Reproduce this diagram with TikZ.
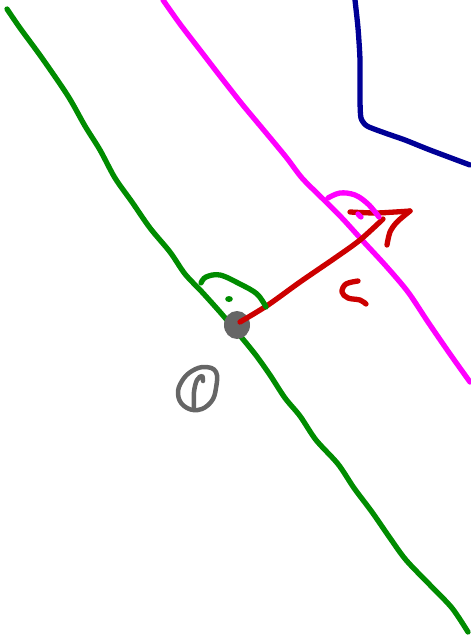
\documentclass[tikz,border=0pt]{standalone}
\definecolor{pgreen}{RGB}{0,140,0}
\definecolor{pmag}{RGB}{255,0,255}
\definecolor{pblue}{RGB}{0,0,150}
\definecolor{pred}{RGB}{204,0,0}
\definecolor{pgray}{RGB}{102,102,102}
\begin{document}
\begin{tikzpicture}[x=1pt,y=-1pt,
  pen/.style={line width=5.3pt,line cap=round,line join=round},
  gpen/.style={pen,draw=pgreen},
  mpen/.style={pen,draw=pmag},
  bpen/.style={pen,draw=pblue},
  rpen/.style={pen,draw=pred},
  kpen/.style={pen,draw=pgray}]
\useasboundingbox (0,0) rectangle (471,638);
% green long line
\draw[gpen] plot[smooth,tension=0.5] coordinates {(7,9) (20,28) (42,58) (68,96) (85,126) (100,150) (115,178) (132,202) (150,228) (170,252) (185,274) (202,292) (220,312) (237,332) (255,354) (270,375) (285,398) (300,416) (316,440) (338,464) (354,488) (372,512) (390,538) (406,560) (430,585) (452,608) (468,632)};
% magenta long line
\draw[mpen] plot[smooth,tension=0.5] coordinates {(163,0) (180,24) (200,50) (220,76) (242,104) (262,128) (286,157) (302,178) (322,198) (342,218) (362,240) (386,266) (408,292) (428,322) (450,354) (470,382)};
% blue line
\draw[bpen] plot[smooth,tension=0.4] coordinates {(355,0) (358,28) (360,60) (360,100) (361,118) (367,126) (385,133) (405,140) (430,150) (470,165)};
% gray dot
\fill[pgray] (237,325) ellipse[x radius=13,y radius=14];
% red arrow
\draw[rpen] plot[smooth,tension=0.5] coordinates {(240,322) (268,305) (300,282) (335,258) (360,240) (383,219)};
\draw[rpen] plot[smooth,tension=0.5] coordinates {(350,212) (375,213) (395,212) (410,211)};
\draw[rpen] plot[smooth,tension=0.5] coordinates {(410,211) (397,222) (390,232) (387,245)};
% red c
\draw[rpen] plot[smooth,tension=0.6] coordinates {(358,281) (346,284) (342,292) (348,298) (360,300) (366,304)};
% magenta small arc
\draw[mpen] plot[smooth,tension=0.6] coordinates {(328,198) (340,193) (355,195) (368,204) (379,217)};
\draw[mpen] (358,214) -- (361,217);
% green arc and dot
\draw[gpen] plot[smooth,tension=0.6] coordinates {(201,283) (206,277) (220,275) (240,284) (257,294) (266,307)};
\fill[pgreen] (229,299) ellipse[x radius=3.8,y radius=3];
% gray loop
\draw[kpen,line width=4.5pt] plot[smooth cycle,tension=0.7] coordinates {(205,367) (216,372) (216,388) (211,402) (198,410) (184,406) (178,394) (182,381) (192,371)};
\draw[kpen,line width=4.5pt] plot[smooth,tension=0.6] coordinates {(203,381) (202,376) (197,380) (194,392) (194,407)};
\end{tikzpicture}
\end{document}
